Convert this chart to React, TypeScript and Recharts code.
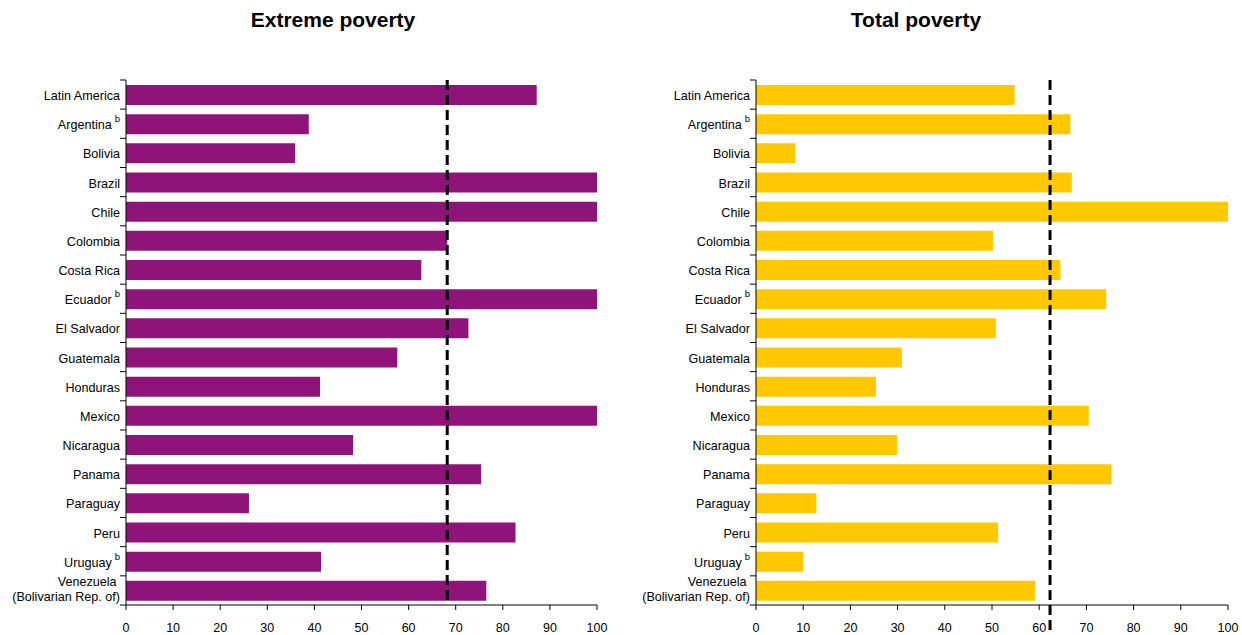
import React from "react";
import { BarChart, Bar, XAxis, YAxis, ReferenceLine } from "recharts";

const countries = [
  "Latin America",
  "Argentina",
  "Bolivia",
  "Brazil",
  "Chile",
  "Colombia",
  "Costa Rica",
  "Ecuador",
  "El Salvador",
  "Guatemala",
  "Honduras",
  "Mexico",
  "Nicaragua",
  "Panama",
  "Paraguay",
  "Peru",
  "Uruguay",
  "Venezuela\n(Bolivarian Rep. of)",
];
const footnoted = ["Argentina", "Ecuador", "Uruguay"];

const extremePoverty = [
  87.2, 38.8, 35.9, 100, 100, 68.2, 62.7, 100, 72.7, 57.6, 41.2, 100, 48.2, 75.4,
  26.1, 82.7, 41.4, 76.5,
];
const totalPoverty = [
  54.8, 66.6, 8.3, 66.9, 100, 50.2, 64.5, 74.2, 50.8, 30.9, 25.4, 70.5, 29.9, 75.3,
  12.8, 51.3, 10.0, 59.1,
];
const extremeAverage = 68.2;
const totalAverage = 62.3;
const xTicks = [0, 10, 20, 30, 40, 50, 60, 70, 80, 90, 100];

const HEIGHT = 635;
const TOP = 80;
const X_AXIS_H = 30;
const band = (HEIGHT - TOP - X_AXIS_H) / countries.length;

const CategoryTick = (props: any) => {
  const { y, payload, index, axisX } = props;
  const name: string = payload.value;
  const lines = name.split("\n");
  const tx = axisX - 6;
  const top = y - band / 2;
  return (
    <g>
      <line x1={axisX - 6} x2={axisX} y1={top} y2={top} stroke="#000" />
      {index === countries.length - 1 && (
        <line x1={axisX - 6} x2={axisX} y1={top + band} y2={top + band} stroke="#000" />
      )}
      {lines.length > 1 ? (
        <text x={tx} y={y} textAnchor="end" fontSize={12.6} fill="#000">
          <tspan x={tx} dy={-4}>{lines[0] + " "}</tspan>
          <tspan x={tx} dy={15}>{lines[1]}</tspan>
        </text>
      ) : (
        <text x={tx} y={y + 1} dy="0.355em" textAnchor="end" fontSize={12.6} fill="#000">
          {name}
          {footnoted.includes(name) && (
            <tspan dx={3} dy={-7} fontSize={9.5}>
              b
            </tspan>
          )}
        </text>
      )}
    </g>
  );
};

const DashedShape = (extend: number) => (props: any) => (
  <line
    x1={props.x1}
    x2={props.x2}
    y1={Math.min(props.y1, props.y2)}
    y2={Math.max(props.y1, props.y2) + extend}
    stroke="#000"
    strokeWidth={3}
    strokeDasharray="10 5"
  />
);

interface PanelProps {
  values: number[];
  color: string;
  average: number;
  width: number;
  yAxisWidth: number;
  right: number;
  extend: number;
}

const Panel = ({ values, color, average, width, yAxisWidth, right, extend }: PanelProps) => {
  const data = countries.map((name, i) => ({ name, value: values[i] }));
  return (
    <BarChart
      width={width}
      height={HEIGHT}
      data={data}
      layout="vertical"
      margin={{ top: TOP, right, bottom: 0, left: 0 }}
      barSize={20}
    >
      <XAxis
        type="number"
        domain={[0, 100]}
        ticks={xTicks}
        height={X_AXIS_H}
        tickSize={5}
        tickMargin={13}
        tick={{ fill: "#000", fontSize: 12.5 }}
        axisLine={{ stroke: "#000" }}
        tickLine={{ stroke: "#000" }}
        allowDataOverflow
      />
      <YAxis
        type="category"
        dataKey="name"
        width={yAxisWidth}
        interval={0}
        tickLine={false}
        axisLine={{ stroke: "#000" }}
        tick={<CategoryTick axisX={yAxisWidth} />}
      />
      <Bar dataKey="value" fill={color} isAnimationActive={false} />
      <ReferenceLine x={average} shape={DashedShape(extend)} />
    </BarChart>
  );
};

const titleStyle: React.CSSProperties = {
  position: "absolute",
  top: 10,
  width: 200,
  textAlign: "center",
  fontSize: 21,
  fontWeight: "bold",
  lineHeight: "20px",
  color: "#000",
};

export default function App() {
  return (
    <div
      style={{
        position: "absolute",
        left: 0,
        top: 0,
        width: 1242,
        height: HEIGHT,
        background: "#fff",
        fontFamily: "'Liberation Sans', Arial, sans-serif",
      }}
    >
      <div style={{ ...titleStyle, left: 233 }}>Extreme poverty</div>
      <div style={{ ...titleStyle, left: 816 }}>Total poverty</div>
      <div style={{ position: "absolute", left: 0, top: 0 }}>
        <Panel
          values={extremePoverty}
          color="#8F1479"
          average={extremeAverage}
          width={620}
          yAxisWidth={126}
          right={23}
          extend={0}
        />
      </div>
      <div style={{ position: "absolute", left: 620, top: 0 }}>
        <Panel
          values={totalPoverty}
          color="#FFC800"
          average={totalAverage}
          width={622}
          yAxisWidth={136}
          right={14}
          extend={30}
        />
      </div>
    </div>
  );
}
